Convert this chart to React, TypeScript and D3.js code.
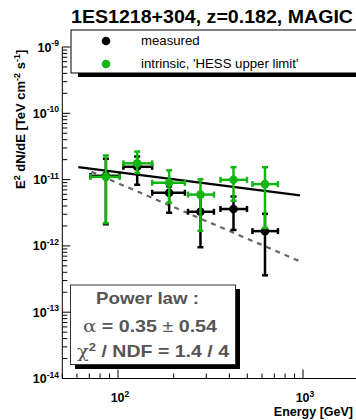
import React from "react";
import * as d3 from "d3";

const energy = [86, 127, 189, 279, 421, 623];
const eLow = [71, 107, 153, 239, 358, 533];
const eHigh = [102, 153, 230, 330, 498, 732];
const measured = [1.14e-11, 1.56e-11, 6.33e-12, 3.27e-12, 3.6e-12, 1.67e-12];
const measuredHi = [2.06e-11, 2.23e-11, 7.9e-12, 5.5e-12, 5.56e-12, 3.05e-12];
const measuredLo = [2.12e-12, 8.35e-12, 3.16e-12, 9.55e-13, 1.74e-12, 3.6e-13];
const intrinsic = [1.1e-11, 1.76e-11, 8.95e-12, 5.94e-12, 9.93e-12, 8.55e-12];
const intrinsicHi = [2.31e-11, 2.65e-11, 1.38e-11, 1.01e-11, 1.54e-11, 1.54e-11];
const intrinsicLo = [2.2e-12, 1.26e-11, 4.48e-12, 1.69e-12, 4.8e-12, 1.86e-12];
const fitE = [61, 963];
const fitVal = [1.54e-11, 5.77e-12];
const dashE = [72, 963];
const dashVal = [1.31e-11, 5.85e-13];
const yMajor = [-14, -13, -12, -11, -10, -9];
const xMajor = [2, 3];
const legendLabels = ["measured", "intrinsic, 'HESS upper limit'"];

const GREEN = "#13b513";
const FONT = "'Liberation Sans', Arial, sans-serif";

export default function App() {
  const x = d3.scaleLog().domain([50, 2000]).range([62.3, 358.7]);
  const y = d3.scaleLog().domain([1e-14, 1e-9]).range([378.5, 47]);
  const line = d3
    .line<[number, number]>()
    .x((d) => x(d[0]))
    .y((d) => y(d[1]));

  const xMinor: number[] = [];
  for (let dec = 10; dec <= 1000; dec *= 10)
    for (let k = 2; k <= 9; k++) {
      const v = dec * k;
      if (v >= 50 && v <= 2000) xMinor.push(v);
    }
  const yMinor: number[] = [];
  for (let p = -14; p < -9; p++)
    for (let k = 2; k <= 9; k++) yMinor.push(k * Math.pow(10, p));

  const x0 = x.range()[0];
  const yb = y.range()[0];

  const series = (
    vals: number[],
    hi: number[],
    lo: number[],
    color: string
  ) =>
    vals.map((v, i) => {
      const cx = x(energy[i]);
      const cy = y(v);
      const xl = x(eLow[i]);
      const xh = x(eHigh[i]);
      const yt = y(hi[i]);
      const ybt = y(lo[i]);
      return (
        <g key={i} stroke={color} strokeWidth={2.5} fill={color}>
          <line x1={xl} x2={xh} y1={cy} y2={cy} />
          <line x1={cx} x2={cx} y1={yt} y2={ybt} />
          <line x1={xl} x2={xl} y1={cy - 3} y2={cy + 3} />
          <line x1={xh} x2={xh} y1={cy - 3} y2={cy + 3} />
          <line x1={cx - 3} x2={cx + 3} y1={yt} y2={yt} />
          <line x1={cx - 3} x2={cx + 3} y1={ybt} y2={ybt} />
          <circle cx={cx} cy={cy} r={4.3} stroke="none" />
        </g>
      );
    });

  return (
    <svg
      width={356}
      height={420}
      style={{ position: "absolute", left: 0, top: 0, background: "#fff" }}
      fontFamily={FONT}
    >
      <rect x={0} y={0} width={356} height={420} fill="#fff" />
      {/* axes */}
      <g stroke="#000" strokeWidth={1}>
        <line x1={x0} x2={x0} y1={y(1e-9)} y2={yb} />
        <line x1={x0} x2={360} y1={yb} y2={yb} />
        {yMajor.map((p) => (
          <line key={p} x1={x0} x2={x0 + 8} y1={y(Math.pow(10, p))} y2={y(Math.pow(10, p))} />
        ))}
        {yMinor.map((v, i) => (
          <line key={i} x1={x0} x2={x0 + 5} y1={y(v)} y2={y(v)} />
        ))}
        {xMajor.map((p) => (
          <line key={p} x1={x(Math.pow(10, p))} x2={x(Math.pow(10, p))} y1={yb} y2={yb - 9} />
        ))}
        {xMinor.map((v, i) => (
          <line key={i} x1={x(v)} x2={x(v)} y1={yb} y2={yb - 5} />
        ))}
      </g>
      {/* y tick labels */}
      {yMajor.map((p) => (
        <text
          key={p}
          x={59}
          y={y(Math.pow(10, p)) + 4.5}
          textAnchor="end"
          fontSize={12.5}
          fontWeight="bold"
        >
          <tspan>10</tspan>
          <tspan dy={-5.5} fontSize={8.5}>{`${p}`}</tspan>
        </text>
      ))}
      {/* x tick labels */}
      {xMajor.map((p) => (
        <text
          key={p}
          x={x(Math.pow(10, p)) + 2}
          y={402}
          textAnchor="middle"
          fontSize={12.5}
          fontWeight="bold"
        >
          <tspan>10</tspan>
          <tspan dy={-5.5} fontSize={8.5}>{`${p}`}</tspan>
        </text>
      ))}
      <text x={353} y={416} textAnchor="end" fontSize={12.5} fontWeight="bold">
        Energy [GeV]
      </text>
      {/* y title */}
      <text
        transform="translate(25,189) rotate(-90)"
        fontSize={13}
        fontWeight="bold"
      >
        <tspan>E</tspan>
        <tspan dy={-5} fontSize={9}>2</tspan>
        <tspan dy={5}> dN/dE [TeV cm</tspan>
        <tspan dy={-5} fontSize={9}>-2</tspan>
        <tspan dy={5}> s</tspan>
        <tspan dy={-5} fontSize={9}>-1</tspan>
        <tspan dy={5}>]</tspan>
      </text>
      {/* fits */}
      <path
        d={line(dashE.map((e, i) => [e, dashVal[i]]) as [number, number][]) || ""}
        stroke="#666"
        strokeWidth={2.2}
        strokeDasharray="5,5"
        fill="none"
      />
      <path
        d={line(fitE.map((e, i) => [e, fitVal[i]]) as [number, number][]) || ""}
        stroke="#000"
        strokeWidth={2.2}
        fill="none"
      />
      {series(measured, measuredHi, measuredLo, "#000")}
      {series(intrinsic, intrinsicHi, intrinsicLo, GREEN)}
      {/* title */}
      <text
        x={71}
        y={23}
        fontSize={18}
        fontWeight="bold"
        textLength={282}
        lengthAdjust="spacingAndGlyphs"
      >
        1ES1218+304, z=0.182, MAGIC
      </text>
      {/* legend */}
      <rect x={78} y={33} width={300} height={44} fill="#000" />
      <rect x={71} y={30} width={300} height={43} fill="#fff" stroke="#000" strokeWidth={1} />
      <circle cx={106} cy={41} r={4.3} fill="#000" />
      <circle cx={106} cy={64} r={4.3} fill={GREEN} />
      {legendLabels.map((l, i) => (
        <text key={i} x={141} y={45 + i * 23} fontSize={13.2}>
          {l}
        </text>
      ))}
      {/* stats box */}
      <rect x={75} y={289} width={165} height={80} fill="#000" />
      <rect x={70.5} y={285} width={165} height={79.5} fill="#fff" stroke="#333" strokeWidth={1} />
      <g fill="#555" fontWeight="bold" fontSize={16.5}>
        <text x={96} y={304} textLength={103} lengthAdjust="spacingAndGlyphs">
          Power law :
        </text>
        <text x={83} y={332} textLength={134} lengthAdjust="spacingAndGlyphs">
          <tspan fontWeight="normal" fontFamily="'DejaVu Serif', serif">α</tspan>
          <tspan> = 0.35 </tspan>
          <tspan fontWeight="normal">±</tspan>
          <tspan> 0.54</tspan>
        </text>
        <text x={77} y={357} textLength={152} lengthAdjust="spacingAndGlyphs">
          <tspan fontWeight="normal" fontFamily="'DejaVu Serif', serif">χ</tspan>
          <tspan dy={-6.5} fontSize={11}>2</tspan>
          <tspan dy={6.5}> / NDF = 1.4 / 4</tspan>
        </text>
      </g>
    </svg>
  );
}
